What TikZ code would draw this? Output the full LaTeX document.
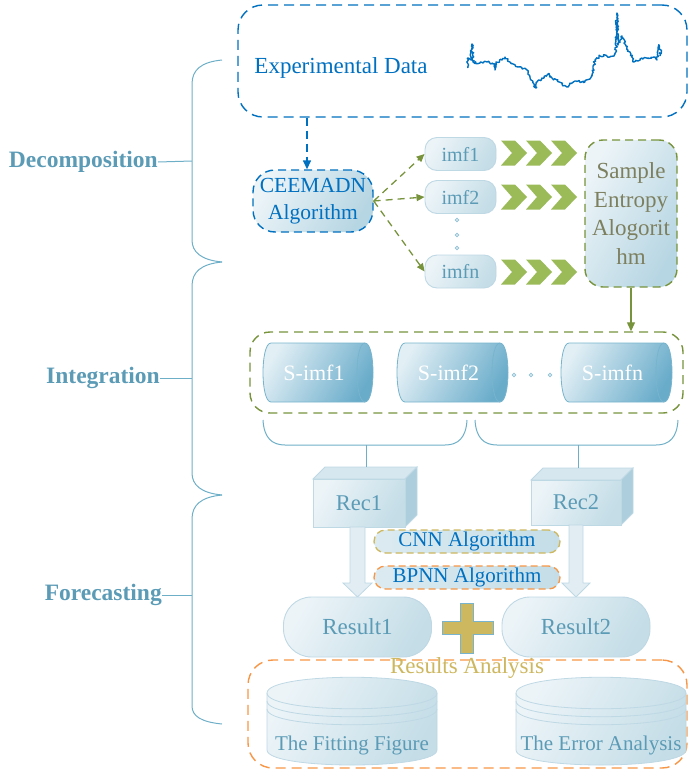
\documentclass[tikz,border=0pt]{standalone}
\usepackage{fontspec}
\setmainfont{Liberation Serif}
\usetikzlibrary{arrows.meta,decorations.pathmorphing}
\definecolor{cblue}{RGB}{0,112,192}
\definecolor{cteal}{RGB}{91,155,182}
\definecolor{clight}{RGB}{190,216,228}
\definecolor{cfa}{RGB}{236,244,248}
\definecolor{cfb}{RGB}{196,221,231}
\definecolor{colive}{RGB}{119,147,60}
\definecolor{cgreen}{RGB}{155,187,89}
\definecolor{csamp}{RGB}{125,128,95}
\definecolor{cgold}{RGB}{205,183,95}
\definecolor{corange}{RGB}{247,150,70}
\definecolor{cca}{RGB}{226,239,245}
\definecolor{ccb}{RGB}{105,172,202}
\definecolor{ccyl}{RGB}{120,180,205}
\definecolor{cbrace}{RGB}{110,175,200}
\definecolor{ctop}{RGB}{214,231,239}
\definecolor{cside}{RGB}{172,206,221}
\definecolor{carrow}{RGB}{226,237,243}
\newcommand\fsz[2]{\fontsize{#1}{#2}\selectfont}
\begin{document}
\begin{tikzpicture}[x=1pt,y=-1pt,
  lbl/.style={font=\bfseries\fsz{23.5}{28}, text=cteal, anchor=east, inner sep=0pt},
  soft/.style={draw=clight, line width=0.9pt, left color=cfa, right color=cfb, shading angle=60},
  imfbox/.style={soft, rounded corners=12pt, minimum width=71pt, minimum height=33pt, text=cteal, font=\fsz{20}{24}, inner sep=0pt},
  resbox/.style={soft, rounded corners=28pt, minimum width=148pt, minimum height=60pt, text=cteal, font=\fsz{23}{28}, inner sep=0pt},
  algbox/.style={rounded corners=11.5pt, minimum width=186pt, minimum height=23pt, left color=cfa!60!cfb, right color=cfb, line width=1.3pt, dash pattern=on 7pt off 4pt, text=cblue, font=\fsz{21}{25}, inner sep=0pt},
  gline/.style={colive, line width=1.3pt, dash pattern=on 7pt off 5pt, -{Triangle[length=8pt,width=7pt]}},
  braceline/.style={cbrace, line width=1pt},
  bigarrow/.style={draw=clight, line width=0.8pt, fill=carrow},
  chev/.style={fill=cgreen, draw=none}
]
\useasboundingbox (0,0) rectangle (689,771);

% ---------- left braces and labels ----------
\draw[braceline] (222,60) .. controls (201,62) and (192,70) .. (192,84) -- (192,240) .. controls (192,252) and (201,260) .. (222,262);
\draw[braceline] (222,262) .. controls (201,264) and (192,272) .. (192,286) -- (192,473) .. controls (192,485) and (201,493) .. (222,495);
\draw[braceline] (222,495) .. controls (201,497) and (192,505) .. (192,519) -- (192,706) .. controls (192,716) and (201,722) .. (222,724);
\coordinate (b1) at (192,161);
\coordinate (b2) at (192,378);
\coordinate (b3) at (192,595);
\node[lbl] (dec) at (158,162) {Decomposition};
\node[lbl] (int) at (160,378) {Integration};
\node[lbl] (fore) at (162,595) {Forecasting};
\draw[braceline] (dec.east) -- (b1);
\draw[braceline] (int.east) -- (b2);
\draw[braceline] (fore.east) -- (b3);

% ---------- experimental data ----------
\node[draw=cblue, line width=1.4pt, dash pattern=on 10pt off 6pt, rounded corners=25pt, minimum width=449pt, minimum height=112pt] (exp) at (462.5,61) {};
\node[text=cblue, font=\fsz{23}{28}, inner sep=0pt] (exptxt) at (341,68) {Experimental Data};
\pgfmathsetseed{7}
\draw[cblue, line width=1.4pt, line join=round, decorate, decoration={random steps, segment length=1.3pt, amplitude=1.2pt}]
 plot coordinates {(468,68) (468,58) (471,60) (472,44) (473,62) (480,63) (487,62) (495,64) (495,70) (496,62) (502,60) (505,57) (510,62) (518,67) (527,70) (529,75) (531,80) (536,88) (537,82) (544,78) (548,74) (552,78) (557,80) (562,84) (567,87) (572,83) (576,81) (585,82) (590,79) (593,72) (595,60) (600,56) (605,55) (610,57) (614,56) (616,50) (617,13) (618,45) (620,40) (622,36) (625,44) (628,50) (632,56) (633,62) (638,61) (642,58) (648,58) (654,57) (657,60) (659,45) (661,50) (660,56)};

% ---------- CEEMADN ----------
\node[draw=cblue, line width=1.4pt, dash pattern=on 8pt off 5pt, rounded corners=22pt, minimum width=120pt, minimum height=62pt, left color=cfa, right color=cfb!85!ccb, shading angle=60, text=cblue, font=\fsz{21.5}{27}, align=center, inner sep=0pt] (ceem) at (313,201) {CEEMADN\\Algorithm};
\coordinate (ax) at (307,0);
\draw[cblue, line width=1.4pt, dash pattern=on 8pt off 5pt, -{Triangle[length=9pt,width=8pt]}] (exp.south -| ax) -- (ceem.north -| ax);

% ---------- imfs ----------
\node[imfbox] (imf1) at (460.5,154) {imf1};
\node[imfbox] (imf2) at (460.5,197) {imf2};
\node[imfbox] (imfn) at (460.5,271.5) {imfn};
\foreach \yy in {220,235,248} \draw[ccyl!80, line width=0.8pt, fill=white] (457,\yy) circle (1.8pt);
\draw[gline] (ceem.east) -- (imf1.west);
\draw[gline] (ceem.east) -- (imf2.west);
\draw[gline] (ceem.east) -- (imfn.west);

% chevrons
\foreach \cy in {153,197,272}{
  \foreach \L in {501,526,551}{
    \fill[chev] (\L,{\cy-12.5}) -- ({\L+14},{\cy-12.5}) -- ({\L+26},\cy) -- ({\L+14},{\cy+12.5}) -- (\L,{\cy+12.5}) -- ({\L+11},\cy) -- cycle;
  }
}

% ---------- sample entropy ----------
\node[draw=colive, line width=1.4pt, dash pattern=on 8pt off 5pt, rounded corners=18pt, minimum width=92pt, minimum height=147pt, left color=cfa, right color=cfb!85!ccb, shading angle=60, text=csamp, font=\fsz{23}{28.5}, align=center, inner sep=0pt] (samp) at (631,213.5) {Sample\\Entropy\\Alogorit\\hm};

% ---------- group of S-imf ----------
\node[draw=colive, line width=1.4pt, dash pattern=on 9pt off 6pt, rounded corners=20pt, minimum width=433pt, minimum height=81pt] (grp) at (466.5,372.5) {};
\draw[colive, line width=1.3pt, -{Triangle[length=9pt,width=8pt]}] (samp.south) -- (grp.north -| samp.south);

\foreach \a/\b/\t/\n in {263/373/S-imf1/s1, 397/508/S-imf2/s2, 561/672/S-imfn/sn}{
  \path[draw=ccyl, line width=0.8pt, left color=cca, right color=ccb, shading angle=60] ({\a+8},343) -- ({\b-8},343) .. controls ({\b+2.67},343) and ({\b+2.67},402) .. ({\b-8},402) -- ({\a+8},402) .. controls ({\a-2.67},402) and ({\a-2.67},343) .. ({\a+8},343) -- cycle;
  \draw[ccyl, line width=0.8pt] ({\b-8},343) .. controls ({\b-18.67},343) and ({\b-18.67},402) .. ({\b-8},402);
  \node[text=white, font=\fsz{22}{26}, inner sep=0pt] (\n) at ({(\a+\b)/2-4},372.5) {\t};
}
\foreach \xx in {514,531,550} \draw[ccyl!80, line width=0.8pt, fill=white] (\xx,375) circle (1.8pt);

% ---------- horizontal braces ----------
\draw[braceline] (263,420) .. controls (264,438) and (272,445) .. (285,445) -- (445,445) .. controls (458,445) and (466,438) .. (467,420);
\draw[braceline] (475,420) .. controls (476,438) and (484,445) .. (497,445) -- (656,445) .. controls (669,445) and (677,438) .. (678,420);
\coordinate (h1) at (366,445);
\coordinate (h2) at (578,445);

% ---------- Rec cubes ----------
\foreach \a/\b/\yt/\yb/\t/\n in {313/405/479/527/Rec1/r1, 531/621/480/525/Rec2/r2}{
  \draw[clight, line width=0.8pt, fill=ctop] (\a,\yt) -- ({\a+12},{\yt-12}) -- ({\b+12},{\yt-12}) -- (\b,\yt) -- cycle;
  \draw[clight, line width=0.8pt, fill=cside] (\b,\yt) -- ({\b+12},{\yt-12}) -- ({\b+12},{\yb-12}) -- (\b,\yb) -- cycle;
  \node[soft, minimum width={\b-\a}, minimum height={\yb-\yt}, text=cteal, font=\fsz{22.5}{27}, inner sep=0pt] (\n) at ({(\a+\b)/2},{(\yt+\yb)/2}) {\t};
}
\coordinate (r1t) at (366,467);
\coordinate (r2t) at (578,468);
\draw[braceline] (h1) -- (r1t);
\draw[braceline] (h2) -- (r2t);

% ---------- big arrows ----------
\path[bigarrow] (350,527) -- (365,527) -- (365,583) -- (372,583) -- (357.5,597) -- (343,583) -- (350,583) -- cycle;
\path[bigarrow] (569,525) -- (583,525) -- (583,583) -- (590,583) -- (576,597) -- (562,583) -- (569,583) -- cycle;

% ---------- algorithms ----------
\node[algbox, draw=cgold] (cnn) at (467,541.5) {CNN Algorithm};
\node[algbox, draw=corange] (bpnn) at (467,577.5) {BPNN Algorithm};

% ---------- results ----------
\node[resbox] (res1) at (357.5,627) {Result1};
\node[resbox] (res2) at (576,627) {Result2};
\path[fill=cgold, draw=ccyl, line width=0.9pt] (460,603) -- (473,603) -- (473,621) -- (493,621) -- (493,634) -- (473,634) -- (473,653) -- (460,653) -- (460,634) -- (442,634) -- (442,621) -- (460,621) -- cycle;

% ---------- results analysis ----------
\node[draw=corange, line width=1.4pt, dash pattern=on 10pt off 6pt, rounded corners=25pt, minimum width=439pt, minimum height=108pt] (ana) at (467.5,714) {};
\foreach \a/\b/\t/\n in {267/437/The Fitting Figure/d1, 516/686/The Error Analysis/d2}{
  \path[draw=clight, line width=0.8pt, left color=cfa, right color=cfb, shading angle=60] (\a,693) -- (\a,750) .. controls (\a,770) and (\b,770) .. (\b,750) -- (\b,693) .. controls (\b,672) and (\a,672) .. (\a,693) -- cycle;
  \draw[clight, line width=0.8pt] (\a,693) .. controls (\a,714) and (\b,714) .. (\b,693);
  \draw[clight, line width=0.8pt] (\a,701) .. controls (\a,722) and (\b,722) .. (\b,701);
  \draw[clight, line width=0.8pt] (\a,709) .. controls (\a,730) and (\b,730) .. (\b,709);
  \node[text=cteal, font=\fsz{21}{25}, inner sep=0pt] (\n) at ({(\a+\b)/2},745) {\t};
}
\node[text=cgold, font=\fsz{23}{28}, inner sep=0pt] (anatxt) at (467,668) {Results Analysis};
\end{tikzpicture}
\end{document}
